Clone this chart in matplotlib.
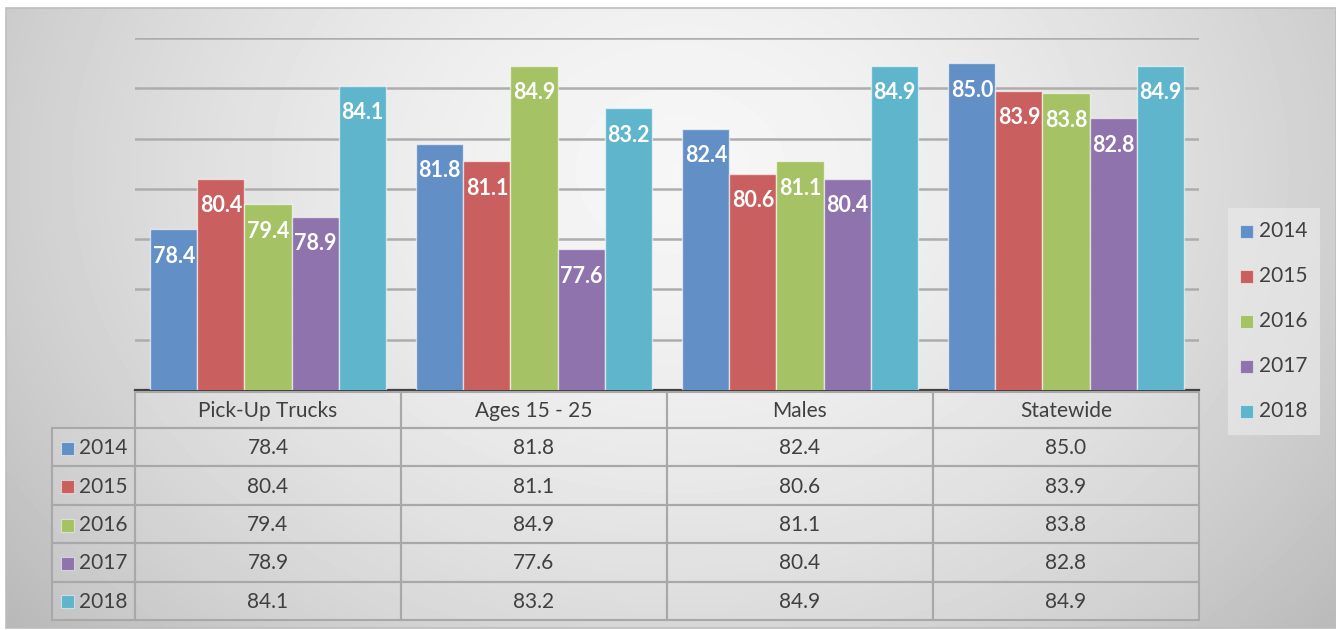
import numpy as np
import matplotlib.pyplot as plt
from matplotlib.patches import Rectangle

# données du graphique
categories = ["Pick-Up Trucks", "Ages 15 - 25", "Males", "Statewide"]
years = ["2014", "2015", "2016", "2017", "2018"]
v2014 = [78.4, 81.8, 82.4, 85.0]
v2015 = [80.4, 81.1, 80.6, 83.9]
v2016 = [79.4, 84.9, 81.1, 83.8]
v2017 = [78.9, 77.6, 80.4, 82.8]
v2018 = [84.1, 83.2, 84.9, 84.9]
series = [v2014, v2015, v2016, v2017, v2018]
colors = ["#628fc5", "#c95f5f", "#a5c264", "#8f73ad", "#5fb5cc"]

plt.rcParams['font.family'] = ['Lato', 'DejaVu Sans']
W, H = 1336, 630
fig = plt.figure(figsize=(W / 100, H / 100), dpi=100)

# fond en dégradé (coordonnées pixels)
bg = fig.add_axes([0, 0, 1, 1], zorder=0)
bg.set_xlim(0, W)
bg.set_ylim(H, 0)
bg.axis('off')
yy, xx = np.mgrid[8:628, 6:W]
r = np.sqrt(((xx - 680) / 760.0) ** 2 + ((yy - 170) / 600.0) ** 2)
shade = np.clip(0.965 - 0.19 * r ** 1.6, 0.7, 1)
bg.imshow(shade, cmap='gray', vmin=0, vmax=1, extent=(6, W, 628, 8), aspect='auto')
bg.add_patch(Rectangle((6, 8), W - 6, 620, fill=False, ec='#bdbdbd', lw=1.2))

# barres
ax = fig.add_axes([135 / W, (H - 390) / H, (1199 - 135) / W, (390 - 38) / H], zorder=2)
ax.patch.set_alpha(0)
ax.set_xlim(-0.5, 3.5)
ax.set_ylim(72, 86)
ax.set_yticks(range(74, 87, 2))
ax.yaxis.grid(True, color='#adadad', lw=1.8)
ax.set_axisbelow(True)
ax.tick_params(left=False, labelleft=False, bottom=False, labelbottom=False)
for s in ['top', 'left', 'right']:
    ax.spines[s].set_visible(False)
ax.spines['bottom'].set_color('#404040')
ax.spines['bottom'].set_linewidth(1.6)

x = np.arange(len(categories))
bw = 0.177
for i, vals in enumerate(series):
    ax.bar(x + (i - 2) * bw, vals, bw, color=colors[i], edgecolor=(1, 1, 1, 0.6), lw=1, zorder=3)
    for xi, v in zip(x + (i - 2) * bw, vals):
        ax.annotate(f"{v:.1f}", (xi, v), xytext=(0, -19.5), textcoords='offset points',
                    ha='center', va='center', color='white', fontweight='bold', fontsize=15.5, zorder=4)

# tableau et légende (coordonnées pixels)
ov = fig.add_axes([0, 0, 1, 1], zorder=3)
ov.set_xlim(0, W)
ov.set_ylim(H, 0)
ov.axis('off')
ov.patch.set_alpha(0)

col_x = [135, 401, 667, 933, 1199]
grid_c = '#a8a8a8'
txt_c = '#404040'
fs = 15
head_top, head_bot = 392, 428
row_h = 38.4

for j, cat in enumerate(categories):
    ov.add_patch(Rectangle((col_x[j], head_top), col_x[j + 1] - col_x[j], head_bot - head_top,
                           fc=(1, 1, 1, 0.12), ec=grid_c, lw=1.5))
    ov.text((col_x[j] + col_x[j + 1]) / 2, (head_top + head_bot) / 2 + 1, cat,
            ha='center', va='center', fontsize=fs, color=txt_c)

for i, (yr, vals) in enumerate(zip(years, series)):
    y0 = head_bot + i * row_h
    yc = y0 + row_h / 2 + 1
    ov.add_patch(Rectangle((52, y0), 135 - 52, row_h, fc=(1, 1, 1, 0.12), ec=grid_c, lw=1.5))
    ov.add_patch(Rectangle((61, yc - 6.5), 13, 13, fc=colors[i], ec=(1, 1, 1, 0.5), lw=0.8))
    ov.text(79, yc, yr, ha='left', va='center', fontsize=fs, color=txt_c)
    for j, v in enumerate(vals):
        ov.add_patch(Rectangle((col_x[j], y0), col_x[j + 1] - col_x[j], row_h,
                               fc=(1, 1, 1, 0.12), ec=grid_c, lw=1.5))
        ov.text((col_x[j] + col_x[j + 1]) / 2, yc, f"{v:.1f}",
                ha='center', va='center', fontsize=fs, color=txt_c)

# légende
ov.add_patch(Rectangle((1228, 208), 92, 227, fc=(0.93, 0.93, 0.93, 0.6), ec='none'))
for i, yr in enumerate(years):
    yc = 231 + 45 * i
    ov.add_patch(Rectangle((1240, yc - 6.5), 13, 13, fc=colors[i], ec=(1, 1, 1, 0.5), lw=0.8))
    ov.text(1259, yc, yr, ha='left', va='center', fontsize=fs, color=txt_c)

fig.savefig("out.png", dpi=100)
